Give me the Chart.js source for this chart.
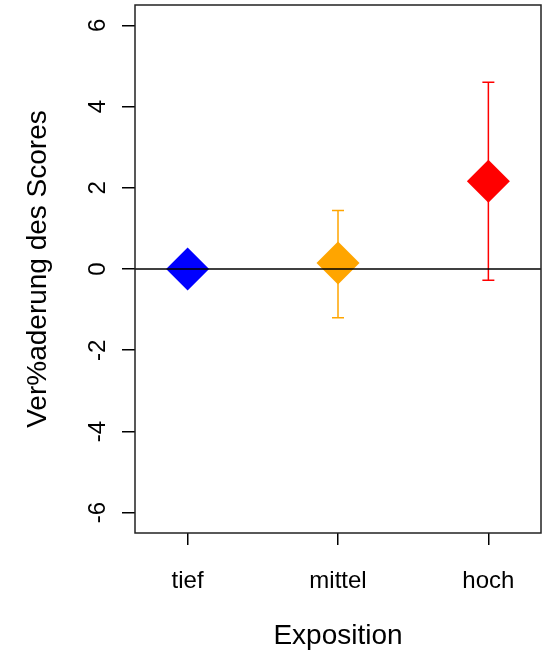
<!DOCTYPE html>
<html>
<head>
<meta charset="utf-8">
<script src="https://cdn.jsdelivr.net/npm/chart.js@4/dist/chart.umd.min.js"></script>
<style>
  html, body { margin: 0; padding: 0; background: #fff; }
  #wrap { width: 546px; height: 651px; }
</style>
</head>
<body>
<div id="wrap"><canvas id="chart" width="546" height="651"></canvas></div>
<script>
// Werte
const categories = ['tief', 'mittel', 'hoch'];
const xPositions = [1, 2, 3];
const means = [0, 0.15, 2.16];
const lowers = [0, -1.2, -0.28];
const uppers = [0, 1.44, 4.6];
const colors = ['#0000FF', '#FFA500', '#FF0000'];
const yTicks = [-6, -4, -2, 0, 2, 4, 6];

const FONT = 'Liberation Sans, Arial, sans-serif';

// Fehlerbalken hinter den Rauten
const errorBars = {
    id: 'errorBars',
    beforeDatasetsDraw(chart) {
        const { ctx, scales: { x, y } } = chart;
        ctx.save();
        ctx.lineWidth = 1.5;
        xPositions.forEach((pos, i) => {
            if (uppers[i] <= lowers[i]) return;
            const px = x.getPixelForValue(pos);
            const top = y.getPixelForValue(uppers[i]);
            const bot = y.getPixelForValue(lowers[i]);
            ctx.strokeStyle = colors[i];
            ctx.beginPath();
            ctx.moveTo(px, top); ctx.lineTo(px, bot);
            ctx.moveTo(px - 6, top); ctx.lineTo(px + 6, top);
            ctx.moveTo(px - 6, bot); ctx.lineTo(px + 6, bot);
            ctx.stroke();
        });
        ctx.restore();
    }
};

// Nulllinie, Rahmen und gedrehte y-Beschriftungen
const frame = {
    id: 'frame',
    afterDatasetsDraw(chart) {
        const { ctx, chartArea: a, scales: { y } } = chart;
        ctx.save();
        ctx.strokeStyle = '#000';
        ctx.lineWidth = 1.5;
        const y0 = y.getPixelForValue(0);
        ctx.beginPath();
        ctx.moveTo(a.left, y0);
        ctx.lineTo(a.right, y0);
        ctx.stroke();

        ctx.strokeStyle = '#222';
        ctx.strokeRect(a.left, a.top, a.right - a.left, a.bottom - a.top);

        ctx.fillStyle = '#000';
        ctx.font = '24px ' + FONT;
        ctx.textAlign = 'center';
        ctx.textBaseline = 'alphabetic';
        yTicks.forEach(v => {
            ctx.save();
            ctx.translate(105, y.getPixelForValue(v));
            ctx.rotate(-Math.PI / 2);
            ctx.fillText(String(v), 0, 0);
            ctx.restore();
        });
        ctx.restore();
    }
};

new Chart(document.getElementById('chart'), {
    type: 'scatter',
    data: {
        datasets: [{
            data: xPositions.map((pos, i) => ({ x: pos, y: means[i] })),
            pointStyle: 'rectRot',
            pointRadius: 21.5,
            pointBorderWidth: 0,
            pointBackgroundColor: colors,
            pointBorderColor: colors
        }]
    },
    options: {
        responsive: false,
        animation: false,
        layout: { autoPadding: false, padding: { top: 5, right: 5, left: 0, bottom: 0 } },
        plugins: { legend: { display: false }, tooltip: { enabled: false } },
        scales: {
            x: {
                type: 'linear',
                min: 0.65,
                max: 3.35,
                afterBuildTicks: s => { s.ticks = xPositions.map(v => ({ value: v })); },
                afterFit: s => { s.height = 118; },
                border: { display: false },
                grid: { drawOnChartArea: false, tickLength: 12, tickColor: '#000', lineWidth: 1.5 },
                ticks: {
                    padding: 22,
                    color: '#000',
                    font: { family: FONT, size: 24 },
                    callback: v => categories[xPositions.indexOf(v)] ?? ''
                },
                title: {
                    display: true,
                    text: 'Exposition',
                    color: '#000',
                    font: { family: FONT, size: 28 },
                    padding: { top: 0, bottom: -2 }
                }
            },
            y: {
                min: -6.5,
                max: 6.5,
                afterBuildTicks: s => { s.ticks = yTicks.map(v => ({ value: v })); },
                afterFit: s => { s.width = 135; },
                border: { display: false },
                grid: { drawOnChartArea: false, tickLength: 13, tickColor: '#000', lineWidth: 1.5 },
                ticks: { display: false },
                title: {
                    display: true,
                    text: 'Ver%aderung des Scores',
                    color: '#000',
                    font: { family: FONT, size: 28 },
                    padding: { top: 21, bottom: 0 }
                }
            }
        }
    },
    plugins: [errorBars, frame]
});
</script>
</body>
</html>
